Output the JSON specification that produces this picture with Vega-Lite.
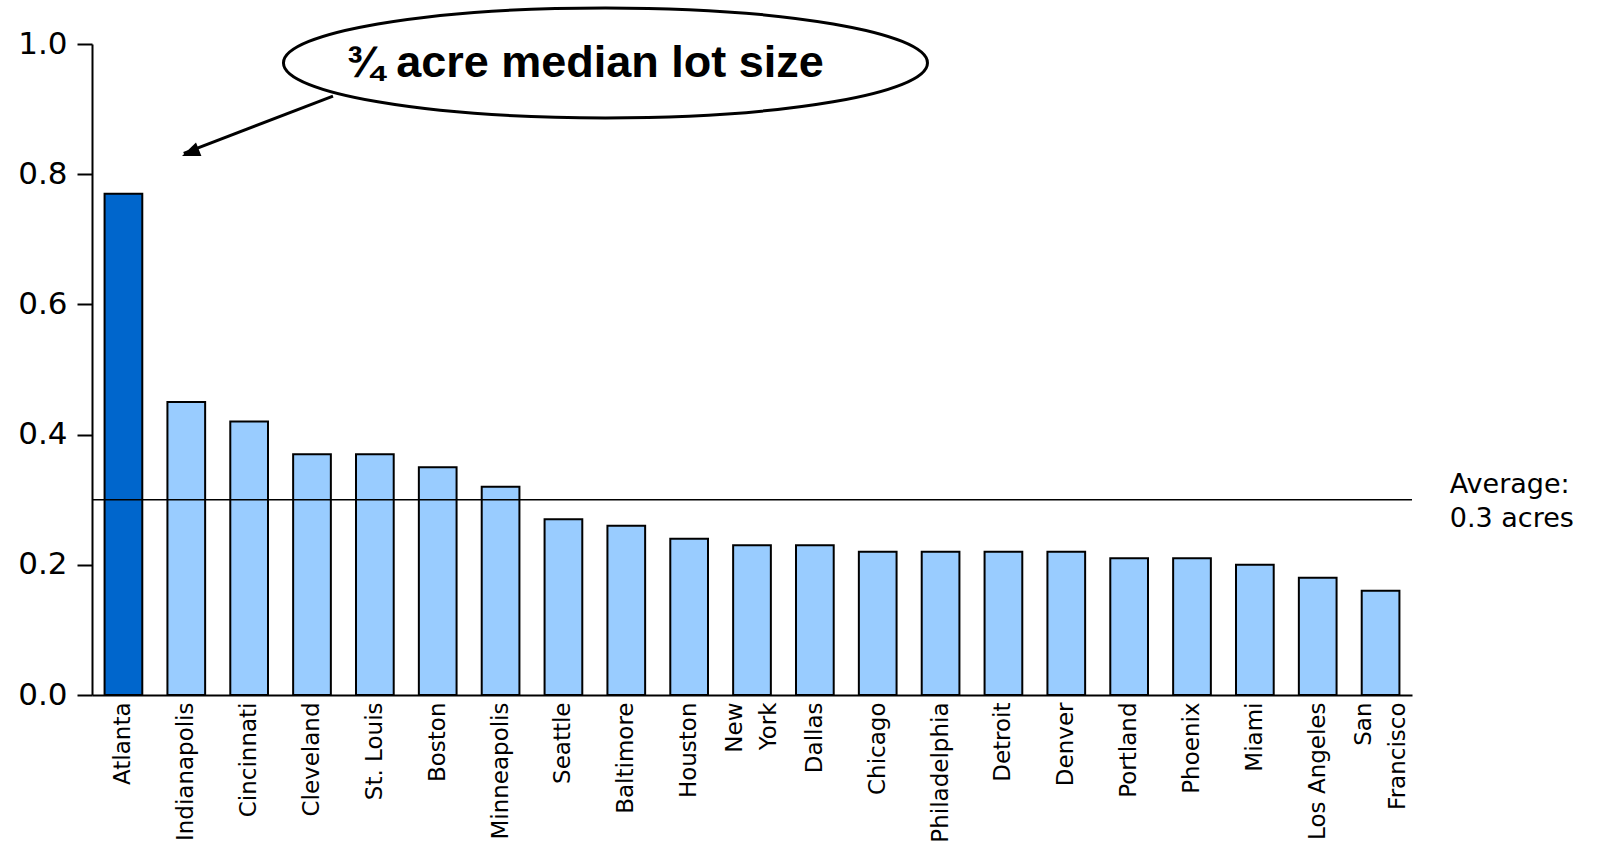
{
  "$schema": "https://vega.github.io/schema/vega-lite/v6.json",
  "width": 1320,
  "height": 651,
  "autosize": "none",
  "padding": {"left": 92, "top": 44, "right": 193, "bottom": 151},
  "background": "white",
  "config": {"view": {"stroke": null}, "font": "DejaVu Sans"},
  "data": {"values": [
    {"city": "Atlanta", "acres": 0.77},
    {"city": "Indianapolis", "acres": 0.45},
    {"city": "Cincinnati", "acres": 0.42},
    {"city": "Cleveland", "acres": 0.37},
    {"city": "St. Louis", "acres": 0.37},
    {"city": "Boston", "acres": 0.35},
    {"city": "Minneapolis", "acres": 0.32},
    {"city": "Seattle", "acres": 0.27},
    {"city": "Baltimore", "acres": 0.26},
    {"city": "Houston", "acres": 0.24},
    {"city": "New York", "acres": 0.23},
    {"city": "Dallas", "acres": 0.23},
    {"city": "Chicago", "acres": 0.22},
    {"city": "Philadelphia", "acres": 0.22},
    {"city": "Detroit", "acres": 0.22},
    {"city": "Denver", "acres": 0.22},
    {"city": "Portland", "acres": 0.21},
    {"city": "Phoenix", "acres": 0.21},
    {"city": "Miami", "acres": 0.20},
    {"city": "Los Angeles", "acres": 0.18},
    {"city": "San Francisco", "acres": 0.16}
  ]},
  "resolve": {"scale": {"x": "independent"}},
  "layer": [
    {
      "mark": {"type": "bar", "stroke": "black", "strokeWidth": 2},
      "encoding": {
        "x": {
          "field": "city", "type": "nominal", "sort": null,
          "scale": {"paddingInner": 0.4, "paddingOuter": 0.2},
          "axis": {
            "title": null, "ticks": false, "domainColor": "black", "domainWidth": 2,
            "labelAngle": -90, "labelPadding": 7, "labelFont": "DejaVu Sans", "labelFontSize": 23,
            "labelColor": "black", "labelLineHeight": 34,
            "labelOffset": {"condition": {"test": "datum.label == 'New York' || datum.label == 'San Francisco'", "value": -17}, "value": 0},
            "labelExpr": "datum.label == 'New York' ? ['New', 'York'] : datum.label == 'San Francisco' ? ['San', 'Francisco'] : datum.label"
          }
        },
        "y": {
          "field": "acres", "type": "quantitative",
          "scale": {"domain": [0, 1], "nice": false},
          "axis": {
            "title": null, "grid": false, "values": [0, 0.2, 0.4, 0.6, 0.8, 1.0], "format": ".1f",
            "domainColor": "black", "domainWidth": 2, "tickColor": "black", "tickWidth": 2, "tickSize": 15,
            "labelFont": "DejaVu Sans", "labelFontSize": 31, "labelColor": "black", "labelPadding": 10
          }
        },
        "fill": {"condition": {"test": "datum.city === 'Atlanta'", "value": "#0066CC"}, "value": "#99CCFF"}
      }
    },
    {
      "data": {"values": [{}]},
      "mark": {"type": "rule", "color": "black", "strokeWidth": 1.5},
      "encoding": {"y": {"datum": 0.3, "type": "quantitative"}}
    },
    {
      "data": {"values": [{}]},
      "mark": {"type": "text", "align": "left", "baseline": "alphabetic", "font": "DejaVu Sans", "fontSize": 27, "lineHeight": 34, "color": "black"},
      "encoding": {
        "x": {"datum": 21.6, "type": "quantitative", "scale": {"domain": [0, 21], "nice": false, "zero": false}, "axis": null},
        "y": {"datum": 0.3103, "type": "quantitative"},
        "text": {"value": ["Average:", "0.3 acres"]}
      }
    },
    {
      "data": {"values": [{}]},
      "mark": {"type": "rule", "color": "black", "strokeWidth": 3},
      "encoding": {
        "x": {"datum": 3.834, "type": "quantitative", "scale": {"domain": [0, 21], "nice": false, "zero": false}, "axis": null},
        "y": {"datum": 0.920, "type": "quantitative"},
        "x2": {"datum": 1.46},
        "y2": {"datum": 0.832}
      }
    },
    {
      "data": {"values": [{}]},
      "mark": {"type": "point", "shape": "M 0 0 L 0.4 1 L -0.4 1 Z", "filled": true, "color": "black", "opacity": 1, "size": 1296, "angle": 248},
      "encoding": {
        "x": {"datum": 1.432, "type": "quantitative", "scale": {"domain": [0, 21], "nice": false, "zero": false}, "axis": null},
        "y": {"datum": 0.828, "type": "quantitative"}
      }
    },
    {
      "data": {"values": [{}]},
      "mark": {"type": "point", "shape": "M -1 0 C -1 -0.0944 -0.5523 -0.1708 0 -0.1708 C 0.5523 -0.1708 1 -0.0944 1 0 C 1 0.0944 0.5523 0.1708 0 0.1708 C -0.5523 0.1708 -1 0.0944 -1 0 Z", "filled": false, "fill": "white", "fillOpacity": 1, "stroke": "black", "strokeWidth": 3, "opacity": 1, "size": 414736},
      "encoding": {
        "x": {"datum": 8.169, "type": "quantitative", "scale": {"domain": [0, 21], "nice": false, "zero": false}, "axis": null},
        "y": {"datum": 0.971, "type": "quantitative"}
      }
    },
    {
      "data": {"values": [{}]},
      "mark": {"type": "text", "align": "center", "baseline": "middle", "font": "Liberation Sans", "fontWeight": "bold", "fontSize": 45, "color": "black"},
      "encoding": {
        "x": {"datum": 7.843, "type": "quantitative", "scale": {"domain": [0, 21], "nice": false, "zero": false}, "axis": null},
        "y": {"datum": 0.971, "type": "quantitative"},
        "text": {"value": "¾ acre median lot size"}
      }
    }
  ]
}
